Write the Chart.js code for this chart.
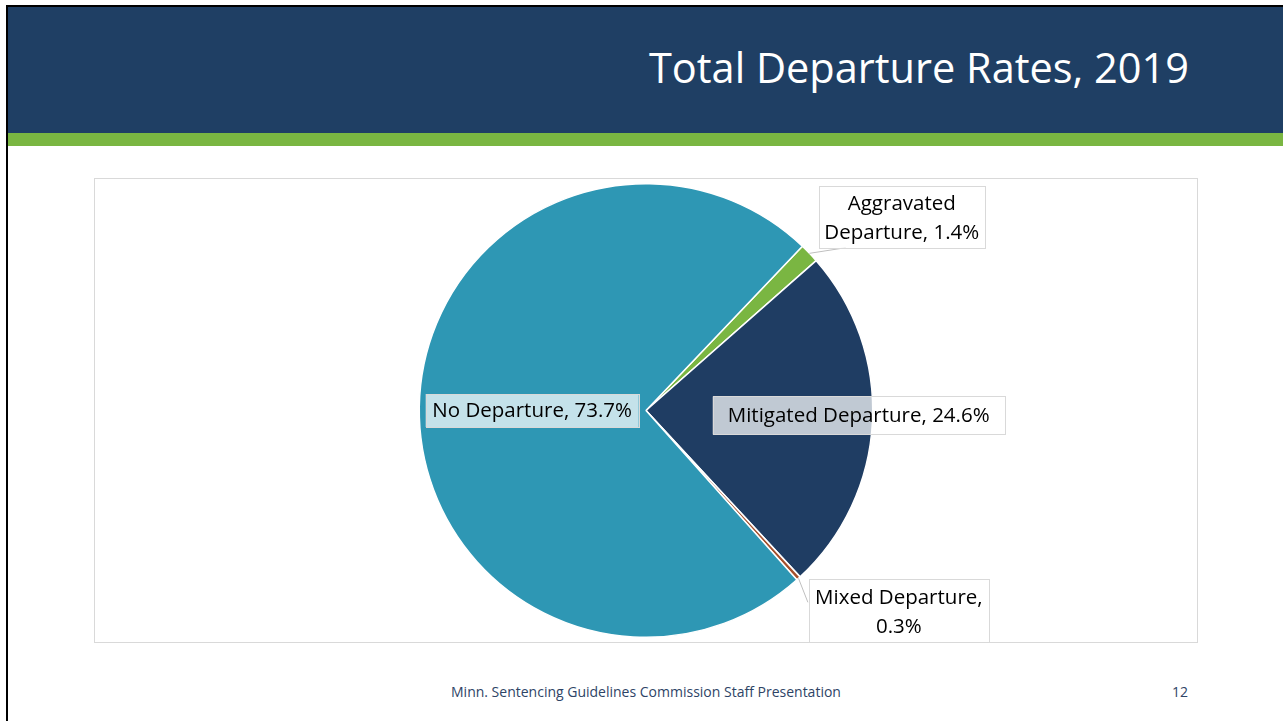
<!DOCTYPE html>
<html lang="en">
<head>
<meta charset="UTF-8">
<title>Total Departure Rates, 2019</title>
<style>
    * { margin: 0; padding: 0; box-sizing: border-box; }
    body {
        width: 1283px;
        height: 721px;
        background: #fff;
        font-family: "Open Sans", Arial, sans-serif;
        position: relative;
        overflow: hidden;
    }
    .frame-top {
        position: absolute; left: 6px; top: 5px; width: 1277px; height: 2px; background: #000;
    }
    .frame-left {
        position: absolute; left: 6px; top: 5px; width: 2px; height: 716px; background: #000;
    }
    .header {
        position: absolute; left: 8px; top: 7px; width: 1275px; height: 126px; background: #1f3f64;
    }
    .header h1 {
        position: absolute; right: 94px; top: 40px;
        color: #fff; font-weight: normal; font-size: 41.5px; line-height: 1;
        white-space: nowrap;
    }
    .stripe {
        position: absolute; left: 8px; top: 133px; width: 1275px; height: 13px; background: #7ab642;
    }
    .chart-box {
        position: absolute; left: 94px; top: 178px; width: 1104px; height: 465px;
        border: 1px solid #d9d9d9;
    }
    .footer {
        position: absolute; left: 451px; top: 682px; font-size: 14px; color: #2e4466;
        white-space: nowrap;
    }
    .page-no {
        position: absolute; left: 1172px; top: 682px; font-size: 14px; color: #2e4466;
    }
</style>
</head>
<body>
<div class="frame-top"></div>
<div class="frame-left"></div>
<div class="header"><h1>Total Departure Rates, 2019</h1></div>
<div class="stripe"></div>

<div class="chart-box">
    <canvas id="departureChart" width="1102" height="463"></canvas>
</div>

<div class="footer">Minn. Sentencing Guidelines Commission Staff Presentation</div>
<div class="page-no">12</div>

<script src="https://cdn.jsdelivr.net/npm/chart.js@4.3.0/dist/chart.umd.min.js"></script>
<script>
// data, in the order the slices run clockwise
const categories = ['Aggravated Departure', 'Mitigated Departure', 'Mixed Departure', 'No Departure'];
const shares = [1.4, 24.6, 0.3, 73.7];
const sliceColors = ['#7ab642', '#1f3d63', '#a5502c', '#2e97b4'];
// label text lines for each slice
const labelLines = [
    ['Aggravated', 'Departure, 1.4%'],
    ['Mitigated Departure, 24.6%'],
    ['Mixed Departure,', '0.3%'],
    ['No Departure, 73.7%']
];

// label box placement, in units of the pie radius from its centre
const labelLayout = [
    { cx: 1.128, cy: -0.852, w: 166, h: 62, leader: [0.881, -0.718] },
    { cx: 0.938, cy: 0.022, w: 292, h: 38 },
    { cx: 1.115, cy: 0.885, w: 180, h: 64, leader: [0.714, 0.846] },
    { cx: -0.502, cy: 0.0, w: 213, h: 33 }
];

const labelPlugin = {
    id: 'sliceLabels',
    afterDatasetsDraw(chart) {
        const ctx = chart.ctx;
        const arcs = chart.getDatasetMeta(0).data;
        ctx.save();
        ctx.font = '20.5px "Open Sans", Arial, sans-serif';
        ctx.textAlign = 'center';
        ctx.textBaseline = 'middle';
        arcs.forEach((arc, i) => {
            const p = arc.getProps(['x', 'y', 'outerRadius', 'startAngle', 'endAngle']);
            const r = p.outerRadius;
            const lay = labelLayout[i];
            const bx = p.x + lay.cx * r;
            const by = p.y + lay.cy * r;

            if (lay.leader) {
                const mid = (p.startAngle + p.endAngle) / 2;
                ctx.strokeStyle = '#bfbfbf';
                ctx.lineWidth = 1;
                ctx.beginPath();
                ctx.moveTo(p.x + Math.cos(mid) * r, p.y + Math.sin(mid) * r);
                ctx.lineTo(p.x + lay.leader[0] * r, p.y + lay.leader[1] * r);
                ctx.stroke();
            }

            ctx.fillStyle = 'rgba(255,255,255,0.72)';
            ctx.fillRect(bx - lay.w / 2, by - lay.h / 2, lay.w, lay.h);
            ctx.strokeStyle = '#d9d9d9';
            ctx.lineWidth = 1;
            ctx.strokeRect(Math.round(bx - lay.w / 2) + 0.5, Math.round(by - lay.h / 2) + 0.5, lay.w, lay.h);

            const lines = labelLines[i];
            const lh = 29;
            ctx.fillStyle = '#000';
            lines.forEach((t, k) => {
                ctx.fillText(t, bx, by + (k - (lines.length - 1) / 2) * lh + 1);
            });
        });
        ctx.restore();
    }
};

new Chart(document.getElementById('departureChart'), {
    type: 'pie',
    data: {
        labels: categories,
        datasets: [{
            data: shares,
            backgroundColor: sliceColors,
            borderColor: '#ffffff',
            borderWidth: 1.5
        }]
    },
    options: {
        responsive: false,
        animation: false,
        rotation: 43.6,
        layout: { padding: 4 },
        plugins: {
            legend: { display: false },
            tooltip: { enabled: false }
        }
    },
    plugins: [labelPlugin]
});
</script>
</body>
</html>
